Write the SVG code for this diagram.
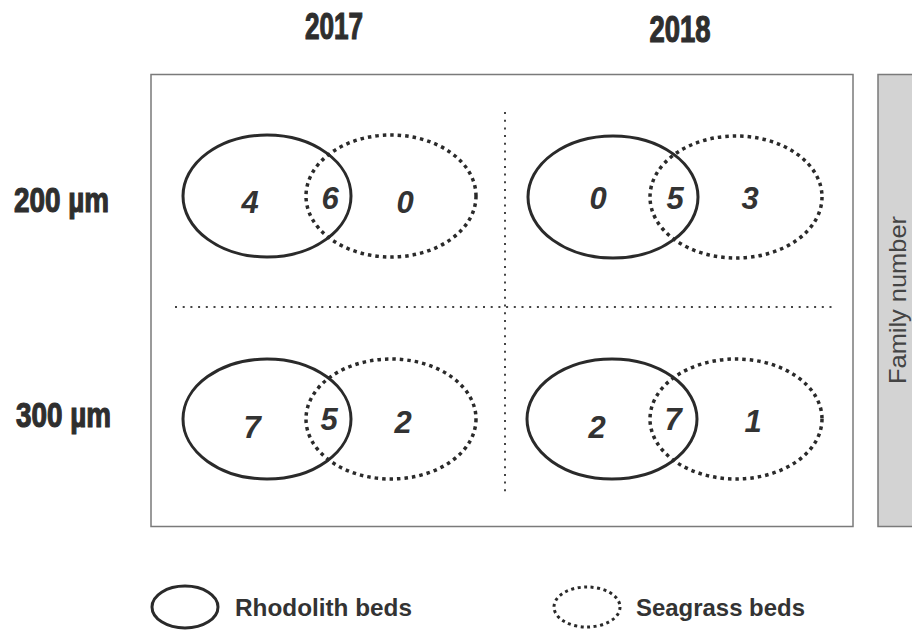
<svg xmlns="http://www.w3.org/2000/svg" width="912" height="630" viewBox="0 0 912 630">
<style>
.hdr{font-family:"Liberation Sans",Arial,sans-serif;font-weight:bold;fill:#2e2e2e;stroke:#2e2e2e;stroke-width:1.2;text-anchor:middle}
.num{font-family:"Liberation Sans",Arial,sans-serif;font-weight:bold;font-style:italic;font-size:31px;fill:#333;text-anchor:middle}
.leg{font-family:"Liberation Sans",Arial,sans-serif;font-weight:bold;font-size:24px;fill:#333}
.solid{fill:none;stroke:#2a2a2a;stroke-width:3}
.dot{fill:none;stroke:#2a2a2a;stroke-width:3.5;stroke-dasharray:3.5 4}
.grid{fill:none;stroke:#444;stroke-width:2;stroke-dasharray:2 5.7}
</style>
<rect x="0" y="0" width="912" height="630" fill="#fff"/>
<g id="frame">
<rect x="151" y="74.5" width="702" height="452" fill="#fff" stroke="#7a7a7a" stroke-width="1.5"/>
</g>
<g id="family-bar">
<rect x="878" y="74.5" width="40" height="452" fill="#d3d3d3" stroke="#7a7a7a" stroke-width="1.5"/>
<text x="906" y="300" transform="rotate(-90 906 300)" font-family="'Liberation Sans',Arial,sans-serif" font-size="24" fill="#444" text-anchor="middle" textLength="168" lengthAdjust="spacingAndGlyphs">Family number</text>
</g>
<g id="headers">
<text class="hdr" x="334" y="39" font-size="36" textLength="58" lengthAdjust="spacingAndGlyphs">2017</text>
<text class="hdr" x="680" y="42" font-size="36" textLength="61" lengthAdjust="spacingAndGlyphs">2018</text>
<text class="hdr" x="14" y="212" font-size="35" style="text-anchor:start" textLength="95" lengthAdjust="spacingAndGlyphs">200 µm</text>
<text class="hdr" x="16" y="427" font-size="35" style="text-anchor:start" textLength="95" lengthAdjust="spacingAndGlyphs">300 µm</text>
</g>
<g id="connectors">
<line class="grid" x1="175" y1="307" x2="833" y2="307"/>
<line class="grid" x1="505" y1="112" x2="505" y2="493"/>
</g>
<g id="venn-2017-200">
<ellipse class="solid" cx="267" cy="196" rx="84" ry="61"/>
<ellipse class="dot" cx="391" cy="196" rx="85" ry="61"/>
<text class="num" x="250" y="213">4</text>
<text class="num" x="330" y="209">6</text>
<text class="num" x="405" y="213">0</text>
</g>
<g id="venn-2018-200">
<ellipse class="solid" cx="613" cy="197" rx="85" ry="61"/>
<ellipse class="dot" cx="736" cy="197" rx="86" ry="61"/>
<text class="num" x="598" y="209">0</text>
<text class="num" x="675" y="209">5</text>
<text class="num" x="750" y="209">3</text>
</g>
<g id="venn-2017-300">
<ellipse class="solid" cx="267" cy="419" rx="84" ry="60"/>
<ellipse class="dot" cx="391" cy="419" rx="85" ry="60"/>
<text class="num" x="252" y="438">7</text>
<text class="num" x="329" y="430">5</text>
<text class="num" x="403" y="433">2</text>
</g>
<g id="venn-2018-300">
<ellipse class="solid" cx="612" cy="419" rx="85" ry="60"/>
<ellipse class="dot" cx="736" cy="419" rx="86" ry="60"/>
<text class="num" x="597" y="438">2</text>
<text class="num" x="673" y="430">7</text>
<text class="num" x="753" y="432">1</text>
</g>
<g id="legend-rhodolith">
<ellipse class="solid" cx="185" cy="607" rx="33" ry="21"/>
<text class="leg" x="235" y="616" textLength="177" lengthAdjust="spacingAndGlyphs">Rhodolith beds</text>
</g>
<g id="legend-seagrass">
<ellipse class="dot" cx="587" cy="607" rx="33" ry="20" style="stroke-width:3;stroke-dasharray:3 3.5"/>
<text class="leg" x="636" y="616" textLength="169" lengthAdjust="spacingAndGlyphs">Seagrass beds</text>
</g>
</svg>
